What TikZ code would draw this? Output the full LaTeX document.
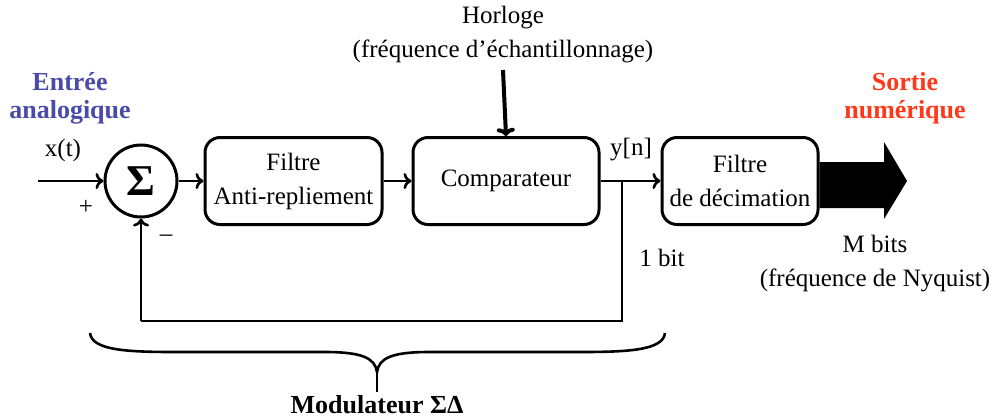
\documentclass[tikz,border=0pt]{standalone}
\usepackage{fontspec}
\setmainfont{Liberation Serif}
\usepackage{tikz}
\usetikzlibrary{arrows.meta,positioning,calc}

\begin{document}
\begin{tikzpicture}[x=0.5pt,y=-0.5pt,
  font=\fontsize{12.5}{17}\selectfont,
  bloc/.style={draw,line width=1.5pt,rounded corners=7.5pt,align=center,minimum height=43.5pt,inner sep=2pt},
  somme/.style={draw,circle,line width=1.5pt,minimum size=36pt,inner sep=0pt},
  fleche/.style={line width=1.3pt,-{To[length=4pt,width=8pt]}},
  lab/.style={align=center,inner sep=1pt}]
\definecolor{cEntree}{rgb}{0.29,0.29,0.66}
\definecolor{cSortie}{rgb}{1.00,0.22,0.10}
\useasboundingbox (0,0) rectangle (999,419);
% blocs
\node[somme] (sum) at (141,181) {\fontsize{22}{22}\selectfont\textbf{Σ}};
\node[bloc,minimum width=88.5pt] (anti) at (293.5,181) {Filtre\\Anti-repliement};
\node[bloc,minimum width=93pt] (comp) at (506,181) {Comparateur};
\node[bloc,minimum width=78pt] (dec) at (740,181) {Filtre\\de décimation};
% textes
\node[lab,text=cEntree,font=\fontsize{13}{14}\selectfont\bfseries] (ent) at (70,98) {Entrée\\analogique};
\node[lab,text=cSortie,font=\fontsize{13}{14}\selectfont\bfseries] (sort) at (905,98) {Sortie\\numérique};
\node[lab] (xt) at (63,150) {x(t)};
\node[lab] (plus) at (86,207) {+};
\node[lab] (moins) at (166,238) {--};
\node[lab] (clk) at (503,35) {Horloge\\(fréquence d’échantillonnage)};
\node[lab] (yn) at (631,150) {y[n]};
\node[lab] (bit) at (662,258) {1 bit};
\node[lab] (mbits) at (875,264) {M bits\\(fréquence de Nyquist)};
\node[lab,font=\fontsize{13}{14}\selectfont\bfseries] (mod) at (377,405) {Modulateur ΣΔ};
% liaisons
\coordinate (in) at (38,181);
\coordinate (j) at (622,181);
\coordinate (fb) at (141,321);
\draw[fleche] (in) -- (sum);
\draw[fleche] (sum) -- (anti);
\draw[fleche] (anti) -- (comp);
\draw[fleche] (comp) -- (dec);
\draw[line width=2pt,-{To[length=4pt,width=9pt]}] (clk.south |- 0,70) -- (comp.north);
\draw[line width=1pt] (j) |- (fb);
\draw[fleche] (fb) -- (sum.south);
% sortie M bits
\fill (dec.east |- 0,162) -- (884,162) -- (884,142) -- (907,181) -- (884,219) -- (884,208) -- (dec.east |- 0,208) -- cycle;
% accolade
\draw[line width=1.3pt] (90,333) .. controls (92,350) and (125,352) .. (175,352) -- (325,352)
  .. controls (362,352) and (375,358) .. (377,372)
  .. controls (379,358) and (392,352) .. (429,352) -- (580,352)
  .. controls (630,352) and (663,350) .. (665,333);
\draw[line width=0.6pt] (377,372) -- (377,392);
\end{tikzpicture}
\end{document}
